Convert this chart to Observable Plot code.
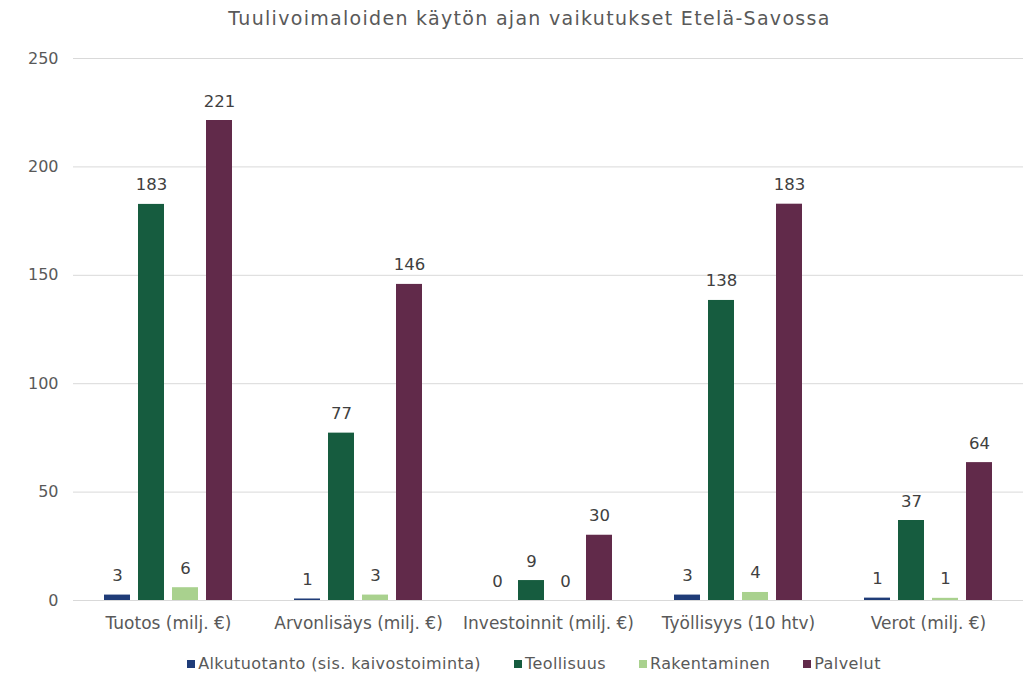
<!DOCTYPE html>
<html>
<head>
<meta charset="utf-8">
<script src="https://cdn.jsdelivr.net/npm/d3@7"></script>
<script src="https://cdn.jsdelivr.net/npm/@observablehq/plot@0.6"></script>
<style>
  body { margin: 0; background: #fff; width: 1028px; height: 674px; overflow: hidden; }
  #title { height: 40px; line-height: 36px; text-align: center; padding-left: 31px; font-family: "DejaVu Sans", Verdana, sans-serif; font-size: 19px; letter-spacing: 1.3px; color: #595959; }
  #legend { display: flex; justify-content: center; gap: 33px; font-family: "DejaVu Sans", Verdana, sans-serif; font-size: 16px; letter-spacing: 0.4px; color: #595959; margin-top: 14px; padding-left: 40px; }
  #legend span.item { display: inline-flex; align-items: center; }
  #legend span.sw { width: 8px; height: 8px; display: inline-block; margin-right: 3px; }
</style>
</head>
<body>
<div id="title">Tuulivoimaloiden käytön ajan vaikutukset Etelä-Savossa</div>
<div id="chart"></div>
<div id="legend"></div>
<script>
const categories = ["Tuotos (milj. €)", "Arvonlisäys (milj. €)", "Investoinnit (milj. €)", "Työllisyys (10 htv)", "Verot (milj. €)"];
const series = ["Alkutuotanto (sis. kaivostoiminta)", "Teollisuus", "Rakentaminen", "Palvelut"];
const colors = ["#1f3c78", "#165c3f", "#a9d18e", "#612a4a"];
const alkutuotanto = [2.5, 0.7, 0, 2.5, 1.1];
const teollisuus = [182.7, 77.2, 9.2, 138.4, 36.9];
const rakentaminen = [5.9, 2.5, 0, 3.7, 1.0];
const palvelut = [221.4, 145.8, 30.1, 182.8, 63.6];
const yTicks = [0, 50, 100, 150, 200, 250];

const valuesBySeries = [alkutuotanto, teollisuus, rakentaminen, palvelut];
const data = [];
categories.forEach((c, i) => {
  series.forEach((s, j) => {
    data.push({cat: c, series: s, value: valuesBySeries[j][i]});
  });
});

const fmt = d3.format(".0f");

const chart = Plot.plot({
  width: 1028,
  height: 600,
  marginTop: 18,
  marginBottom: 40,
  marginLeft: 73,
  marginRight: 5,
  style: { fontFamily: "'DejaVu Sans', Verdana, sans-serif", color: "#595959", background: "white" },
  fx: { domain: categories, padding: 0, label: null },
  x: { domain: series, axis: null, paddingInner: 0.23, paddingOuter: 0.83 },
  y: { domain: [0, 250], label: null },
  color: { domain: series, range: colors },
  marks: [
    Plot.ruleY(yTicks, { stroke: "#d9d9d9", strokeWidth: 1 }),
    Plot.axisY({ ticks: yTicks, tickSize: 0, tickPadding: 15, fontSize: 16, label: null, tickFormat: d3.format("d"), facetAnchor: "left" }),
    Plot.axisFx({ anchor: "bottom", tickSize: 0, tickPadding: 16, fontSize: 17, label: null }),
    Plot.barY(data, { fx: "cat", x: "series", y: "value", fill: "series" }),
    Plot.text(data, { fx: "cat", x: "series", y: "value", text: d => fmt(d.value), lineAnchor: "bottom", dy: -14, fontSize: 16.5, fill: "#404040" })
  ]
});
document.getElementById("chart").appendChild(chart);

const legend = document.getElementById("legend");
series.forEach((s, i) => {
  const item = document.createElement("span");
  item.className = "item";
  const sw = document.createElement("span");
  sw.className = "sw";
  sw.style.background = colors[i];
  item.appendChild(sw);
  item.appendChild(document.createTextNode(s));
  legend.appendChild(item);
});
</script>
</body>
</html>
